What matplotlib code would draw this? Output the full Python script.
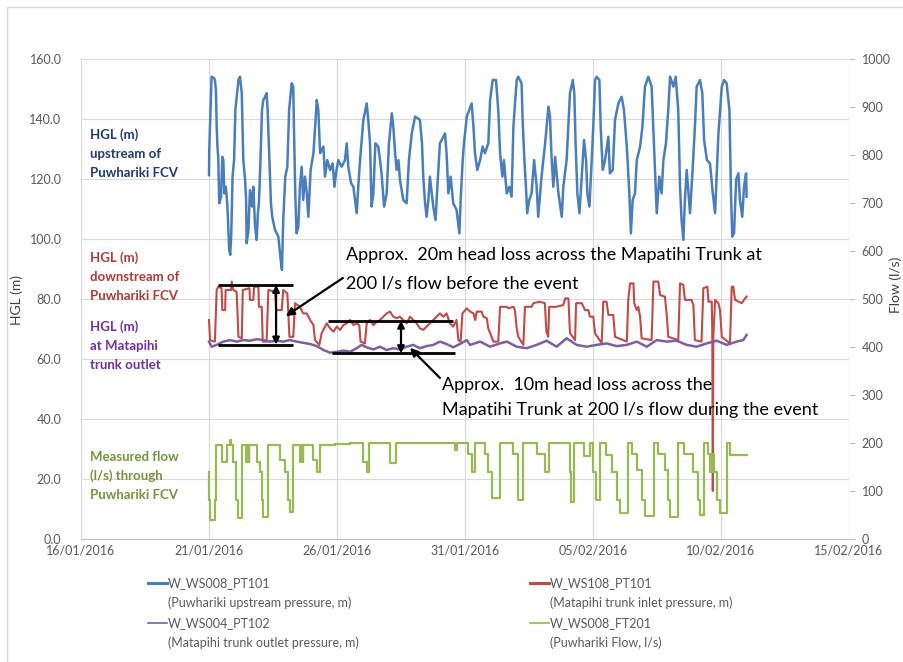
import numpy as np
import pandas as pd
import matplotlib
matplotlib.use("Agg")
import matplotlib.pyplot as plt
import matplotlib.dates as mdates
from matplotlib.lines import Line2D
from matplotlib.patches import Rectangle

# days after 21/01/2016 00:00

# W_WS008_PT101 - HGL upstream of Puwhariki FCV (m)
blue_days = [0.00, 0.01, 0.10, 0.20, 0.23, 0.27, 0.30, 0.33, 0.36, 0.40,
             0.47, 0.52, 0.56, 0.60, 0.66, 0.72, 0.79, 0.83, 0.87, 0.92,
             0.98, 1.03, 1.15, 1.21, 1.28, 1.34, 1.41, 1.45, 1.47, 1.54,
             1.60, 1.68, 1.73, 1.80, 1.86, 1.91, 1.95, 2.01, 2.07, 2.12,
             2.19, 2.25, 2.29, 2.36, 2.42, 2.47, 2.58, 2.71, 2.80, 2.85,
             2.90, 2.98, 3.06, 3.13, 3.23, 3.29, 3.33, 3.37, 3.42, 3.49,
             3.55, 3.62, 3.68, 3.75, 3.82, 3.88, 3.97, 4.08, 4.21, 4.27,
             4.34, 4.47, 4.53, 4.62, 4.73, 4.83, 4.90, 4.96, 5.05, 5.18,
             5.31, 5.38, 5.44, 5.55, 5.64, 5.77, 5.83, 5.90, 6.03, 6.16,
             6.22, 6.29, 6.35, 6.42, 6.50, 6.61, 6.68, 6.74, 6.84, 6.94,
             7.03, 7.14, 7.20, 7.27, 7.33, 7.40, 7.46, 7.59, 7.72, 7.81,
             7.92, 8.05, 8.24, 8.32, 8.37, 8.44, 8.50, 8.57, 8.63, 8.76,
             8.85, 8.92, 9.02, 9.22, 9.28, 9.35, 9.44, 9.54, 9.67, 9.78,
             9.83, 9.91, 9.96, 10.07, 10.26, 10.33, 10.39, 10.48, 10.59, 10.69,
             10.78, 10.91, 10.98, 11.08, 11.21, 11.30, 11.37, 11.46, 11.52, 11.63,
             11.73, 11.82, 11.89, 12.02, 12.08, 12.21, 12.25, 12.32, 12.38, 12.43,
             12.51, 12.60, 12.70, 12.80, 12.86, 12.99, 13.13, 13.26, 13.32, 13.38,
             13.45, 13.52, 13.65, 13.78, 13.84, 13.97, 14.10, 14.21, 14.27, 14.32,
             14.39, 14.47, 14.56, 14.65, 14.73, 14.78, 14.86, 14.95, 15.01, 15.08,
             15.14, 15.25, 15.30, 15.38, 15.47, 15.60, 15.66, 15.77, 15.86, 15.99,
             16.12, 16.21, 16.32, 16.42, 16.48, 16.55, 16.64, 16.71, 16.84, 16.93,
             17.03, 17.16, 17.29, 17.38, 17.49, 17.59, 17.68, 17.75, 17.85, 17.94,
             18.01, 18.14, 18.23, 18.33, 18.40, 18.46, 18.53, 18.59, 18.66, 18.79,
             18.89, 18.98, 19.05, 19.18, 19.27, 19.34, 19.45, 19.57, 19.68, 19.77,
             19.90, 20.03, 20.12, 20.22, 20.33, 20.39, 20.44, 20.51, 20.59, 20.68,
             20.74, 20.83, 20.90, 20.98, 21.00]
blue_vals = [121.3, 129.7, 154.1, 153.6, 153.0, 149.7, 137.4, 130.8, 127.4, 111.9,
             114.1, 127.4, 126.3, 115.2, 117.4, 110.8, 96.3, 94.7, 101.9, 120.8,
             126.3, 143.0, 153.0, 154.1, 148.6, 126.3, 119.7, 113.0, 98.6, 103.0,
             116.3, 110.8, 117.4, 104.1, 99.7, 108.6, 111.9, 126.3, 143.0, 146.3,
             147.4, 148.6, 143.0, 126.3, 111.9, 107.4, 103.0, 100.8, 93.0, 89.7,
             106.3, 120.8, 124.1, 143.0, 151.9, 150.8, 131.9, 115.2, 101.9, 104.1,
             117.4, 124.1, 113.0, 120.8, 115.2, 107.4, 123.0, 128.6, 146.3, 143.0,
             128.6, 130.8, 120.8, 126.3, 123.0, 125.2, 117.4, 121.9, 126.3, 124.1,
             126.3, 131.9, 124.1, 118.6, 117.4, 108.6, 117.4, 126.3, 139.7, 145.2,
             139.7, 131.9, 110.8, 115.2, 131.9, 130.8, 126.3, 121.9, 110.8, 115.2,
             131.9, 141.9, 137.4, 128.6, 123.0, 126.3, 119.7, 113.0, 111.9, 126.3,
             135.2, 140.8, 139.7, 131.9, 120.8, 111.9, 107.4, 113.0, 120.8, 110.8,
             106.3, 117.4, 131.9, 135.2, 128.6, 115.2, 120.8, 111.9, 109.7, 101.9,
             113.0, 126.3, 131.9, 140.8, 145.2, 137.4, 128.6, 123.0, 126.3, 130.8,
             128.6, 131.9, 146.3, 153.0, 153.0, 143.0, 128.6, 120.8, 126.3, 115.2,
             117.4, 114.1, 137.4, 153.0, 154.1, 151.9, 139.7, 126.3, 117.4, 108.6,
             113.0, 115.2, 126.3, 117.4, 107.4, 120.8, 131.9, 144.1, 140.8, 127.4,
             117.4, 127.4, 115.2, 107.4, 117.4, 126.3, 148.6, 153.0, 148.6, 131.9,
             115.2, 108.6, 120.8, 133.0, 126.3, 115.2, 110.8, 126.3, 137.4, 153.0,
             154.1, 153.0, 137.4, 123.0, 126.3, 134.1, 121.9, 123.0, 139.7, 145.2,
             147.4, 143.0, 130.8, 115.2, 101.9, 113.0, 115.2, 126.3, 130.8, 137.4,
             150.8, 154.1, 150.8, 131.9, 108.6, 120.8, 115.2, 126.3, 131.9, 143.0,
             154.1, 150.8, 154.1, 143.0, 117.4, 106.3, 99.7, 113.0, 123.0, 108.6,
             123.0, 137.4, 150.8, 153.0, 148.6, 133.0, 126.3, 125.2, 115.2, 108.6,
             135.2, 150.8, 153.0, 151.9, 143.0, 115.2, 100.8, 101.9, 119.7, 121.9,
             113.0, 107.4, 117.4, 121.9, 114.1]

# W_WS108_PT101 - Matapihi trunk inlet pressure (m)
red_days = [0.00, 0.04, 0.23, 0.30, 0.36, 0.49, 0.52, 0.63, 0.65, 0.86,
            0.89, 0.95, 1.08, 1.15, 1.28, 1.32, 1.58, 1.60, 1.73, 1.76,
            1.93, 1.95, 2.06, 2.10, 2.25, 2.32, 2.58, 2.62, 2.84, 2.90,
            3.06, 3.10, 3.14, 3.29, 3.36, 3.55, 3.68, 3.82, 3.95, 4.08,
            4.14, 4.31, 4.40, 4.60, 4.73, 4.86, 4.99, 5.12, 5.25, 5.38,
            5.51, 5.64, 5.77, 5.87, 5.92, 6.09, 6.16, 6.29, 6.42, 6.55,
            6.68, 6.81, 6.94, 7.07, 7.20, 7.33, 7.46, 7.59, 7.72, 7.85,
            7.98, 8.11, 8.24, 8.37, 8.50, 8.63, 8.76, 8.89, 9.02, 9.15,
            9.28, 9.41, 9.54, 9.67, 9.74, 9.83, 9.90, 10.07, 10.20, 10.33,
            10.40, 10.46, 10.65, 10.72, 10.85, 10.91, 11.04, 11.11, 11.30, 11.37,
            11.63, 11.69, 11.89, 11.95, 12.02, 12.08, 12.28, 12.34, 12.60, 12.67,
            12.92, 13.12, 13.18, 13.25, 13.29, 13.58, 13.84, 13.91, 14.04, 14.10,
            14.30, 14.34, 14.56, 14.69, 14.82, 14.88, 15.01, 15.08, 15.34, 15.40,
            15.53, 15.60, 15.79, 15.86, 16.32, 16.38, 16.45, 16.58, 16.61, 16.71,
            16.77, 16.84, 16.90, 17.29, 17.36, 17.55, 17.62, 17.81, 17.88, 17.94,
            18.33, 18.40, 18.53, 18.59, 18.85, 18.92, 18.98, 19.24, 19.31, 19.47,
            19.51, 19.64, 19.66, 19.68, 19.70, 19.77, 19.90, 19.96, 20.03, 20.35,
            20.42, 20.48, 20.55, 20.81, 20.94, 21.00]
red_vals = [73.0, 66.3, 65.8, 83.0, 84.1, 83.6, 76.3, 76.3, 83.0, 83.0,
            85.8, 83.0, 82.4, 67.4, 66.9, 83.0, 83.6, 79.7, 79.7, 84.1,
            84.1, 77.4, 77.4, 65.8, 65.8, 83.0, 82.4, 76.3, 76.3, 83.0,
            81.9, 75.2, 67.4, 67.4, 78.6, 77.4, 75.2, 75.2, 73.0, 71.3,
            66.3, 64.7, 68.6, 71.9, 70.2, 69.1, 70.8, 69.7, 71.3, 71.9,
            73.0, 71.3, 71.9, 71.3, 65.8, 65.2, 71.9, 73.0, 71.3, 72.4,
            73.0, 74.1, 75.2, 75.8, 74.1, 73.6, 74.1, 73.0, 71.9, 74.1,
            73.0, 71.9, 70.2, 69.7, 70.8, 71.9, 73.0, 74.1, 75.2, 74.1,
            75.2, 71.9, 70.8, 73.0, 66.3, 65.8, 75.2, 76.9, 75.8, 75.2,
            73.0, 75.8, 75.8, 74.1, 73.6, 70.2, 67.4, 65.8, 65.8, 77.4,
            77.4, 76.9, 77.4, 76.3, 70.2, 67.4, 64.7, 77.4, 77.4, 78.6,
            79.1, 78.6, 69.1, 67.4, 77.4, 77.4, 78.0, 80.2, 80.2, 68.6,
            66.3, 78.6, 78.6, 76.3, 76.3, 74.1, 74.1, 68.6, 65.2, 79.1,
            79.1, 74.7, 74.7, 67.4, 65.8, 80.2, 85.2, 85.2, 78.6, 76.3,
            77.4, 74.1, 66.9, 66.3, 85.8, 85.8, 81.3, 80.8, 74.7, 67.4,
            66.3, 85.2, 84.7, 79.7, 79.7, 78.0, 66.3, 65.8, 83.6, 84.1,
            79.1, 79.1, 67.4, 16.0, 67.4, 79.7, 78.6, 76.3, 67.4, 65.2,
            84.1, 84.1, 79.7, 78.6, 80.2, 80.8]

# W_WS004_PT102 - Matapihi trunk outlet pressure (m)
purple_days = [0.00, 0.10, 0.30, 0.56, 0.82, 1.08, 1.34, 1.60, 1.86, 2.12,
               2.38, 2.64, 2.90, 3.16, 3.42, 3.68, 3.95, 4.21, 4.47, 4.73,
               4.99, 5.25, 5.51, 5.77, 5.96, 6.16, 6.42, 6.68, 6.94, 7.20,
               7.46, 7.72, 7.98, 8.24, 8.50, 8.76, 9.02, 9.28, 9.54, 9.80,
               10.07, 10.20, 10.59, 10.98, 11.37, 11.63, 12.02, 12.41, 12.80, 13.19,
               13.58, 13.97, 14.36, 14.75, 15.14, 15.53, 15.92, 16.32, 16.71, 17.10,
               17.49, 17.88, 18.27, 18.66, 19.05, 19.44, 19.83, 20.22, 20.61, 20.87,
               21.00]
purple_vals = [65.8, 64.1, 64.7, 65.8, 66.3, 65.8, 66.3, 66.1, 66.6, 66.3,
               65.8, 66.1, 65.8, 66.3, 65.8, 65.4, 65.0, 64.3, 63.0, 62.1,
               62.4, 62.8, 62.4, 63.6, 64.7, 63.9, 63.2, 64.1, 63.0, 63.6,
               63.2, 64.1, 64.7, 63.6, 64.3, 64.7, 65.8, 65.0, 63.9, 65.0,
               66.3, 64.7, 65.8, 64.1, 65.2, 65.8, 64.1, 63.6, 64.7, 66.1,
               64.1, 66.9, 64.7, 64.1, 64.7, 65.2, 64.3, 64.7, 65.8, 64.1,
               66.3, 65.8, 66.1, 64.7, 64.1, 65.2, 66.1, 64.7, 65.8, 66.3,
               68.0]

# W_WS008_FT201 - Puwhariki flow (l/s), value holds until the next time
green_days = [0.00, 0.01, 0.05, 0.25, 0.29, 0.49, 0.69, 0.83, 0.87, 0.95,
              1.05, 1.13, 1.28, 1.45, 1.47, 1.50, 1.52, 1.55, 1.57, 1.86,
              1.99, 2.06, 2.12, 2.32, 2.77, 2.97, 3.10, 3.16, 3.27, 3.55,
              3.58, 3.61, 3.64, 3.66, 3.68, 4.08, 4.21, 4.34, 4.92, 5.51,
              6.03, 6.16, 6.25, 7.07, 7.29, 8.37, 9.61, 9.67, 10.13, 10.26,
              10.39, 10.78, 10.91, 11.04, 11.37, 11.89, 12.08, 12.28, 12.80, 13.12,
              13.29, 14.10, 14.14, 14.27, 14.65, 14.88, 14.99, 15.12, 15.27, 15.51,
              15.73, 15.95, 16.05, 16.38, 16.54, 16.71, 16.90, 17.03, 17.38, 17.55,
              17.81, 17.94, 18.01, 18.33, 18.55, 18.92, 19.11, 19.18, 19.34, 19.51,
              19.58, 19.62, 19.66, 19.70, 19.74, 19.83, 19.96, 20.22, 20.35, 21.00]
green_vals = [140, 81, 40, 81, 196, 161, 196, 206, 196, 161,
              81, 43, 196, 161, 196, 161, 196, 161, 196, 161,
              140, 81, 46, 196, 164, 140, 81, 57, 196, 161,
              196, 161, 196, 161, 196, 164, 140, 196, 198, 201,
              161, 140, 201, 158, 201, 200, 185, 201, 178, 140,
              199, 178, 140, 85, 200, 178, 81, 201, 178, 140,
              201, 140, 78, 201, 173, 201, 140, 81, 201, 175,
              140, 81, 54, 201, 178, 144, 81, 47, 201, 178,
              144, 81, 46, 201, 178, 140, 81, 50, 201, 178,
              140, 178, 140, 178, 140, 81, 54, 201, 175, 175]

series_names = ["W_WS008_PT101", "W_WS108_PT101", "W_WS004_PT102", "W_WS008_FT201"]
series_desc = ["(Puwhariki upstream pressure, m)", "(Matapihi trunk inlet pressure, m)",
               "(Matapihi trunk outlet pressure, m)", "(Puwhariki Flow, l/s)"]
colors = ["#4A7EBB", "#BE4B48", "#7D5FA0", "#98B954"]

start = pd.Timestamp("2016-01-21")


def tdays(d):
    return start + pd.to_timedelta(np.asarray(d, dtype=float), unit="D")


def dnum(d):
    return mdates.date2num(start + pd.Timedelta(days=d))


plt.rcParams["font.family"] = ["Lato", "DejaVu Sans"]

W, H = 904, 662
fig = plt.figure(figsize=(W / 100, H / 100), dpi=100)
ax = fig.add_axes([81 / W, 1 - 539 / H, 768 / W, 480 / H])
ax2 = ax.twinx()

ax.plot(tdays(blue_days), blue_vals, color=colors[0], lw=1.8)
ax.plot(tdays(red_days), red_vals, color=colors[1], lw=1.5)
ax.plot(tdays(purple_days), purple_vals, color=colors[2], lw=1.8)
ax2.plot(tdays(green_days), green_vals, color=colors[3], lw=1.6, drawstyle="steps-post")

# axes
xt = pd.date_range("2016-01-16", "2016-02-15", freq="5D")
ax.set_xlim(xt[0], xt[-1])
ax.set_xticks(xt)
ax.xaxis.set_major_formatter(mdates.DateFormatter("%d/%m/%Y"))
ax.set_ylim(0, 160)
ax.set_yticks(np.arange(0, 161, 20))
ax.yaxis.set_major_formatter(matplotlib.ticker.FormatStrFormatter("%.1f"))
ax2.set_ylim(0, 1000)
ax2.set_yticks(np.arange(0, 1001, 100))

ax.grid(True, color="#D9D9D9", lw=0.8)
ax.set_axisbelow(True)
for s in ["top", "left", "right"]:
    ax.spines[s].set_visible(False)
ax.spines["bottom"].set_color("#BFBFBF")
for s in ax2.spines.values():
    s.set_visible(False)
ax.tick_params(axis="x", length=0, labelsize=9, labelcolor="#595959", pad=4)
ax.tick_params(axis="y", length=0, labelsize=9, labelcolor="#595959", pad=14)
ax2.tick_params(axis="y", length=4, color="#BFBFBF", labelsize=9, labelcolor="#595959", pad=5)

fig.text(17 / W, 1 - 300 / H, "HGL (m)", rotation=90, ha="center", va="center",
         fontsize=10, color="#404040")
fig.text(902 / W, 1 - 285 / H, "Flow (l/s)", rotation=90, ha="right", va="center",
         fontsize=10, color="#404040")

# series labels inside the plot
side_labels = [
    (["HGL (m)", "upstream of", "Puwhariki FCV"], 135, "#1F3B6E"),
    (["HGL (m)", "downstream of", "Puwhariki FCV"], 258, "#B03A36"),
    (["HGL (m)", "at Matapihi", "trunk outlet"], 327, "#7030A0"),
    (["Measured flow", "(l/s) through", "Puwhariki FCV"], 457, "#76923C"),
]
for lines, y0, c in side_labels:
    for i, t in enumerate(lines):
        fig.text(90 / W, 1 - (y0 + 19 * i) / H, t, ha="left", va="center",
                 fontsize=9.5, fontweight="bold", color=c)

# head loss annotations
bar = dict(color="black", lw=2, solid_capstyle="butt")
ax.plot([dnum(0.35), dnum(3.28)], [84.7, 84.7], **bar)
ax.plot([dnum(0.35), dnum(3.28)], [64.8, 64.8], **bar)
ax.plot([dnum(4.65), dnum(9.53)], [72.8, 72.8], **bar)
ax.plot([dnum(4.80), dnum(9.61)], [61.9, 61.9], **bar)
dbl = dict(arrowstyle="<|-|>", color="black", lw=1.6, mutation_scale=10, shrinkA=0, shrinkB=0)
ax.annotate("", xy=(dnum(2.62), 84.7), xytext=(dnum(2.62), 64.8), arrowprops=dbl)
ax.annotate("", xy=(dnum(7.50), 72.8), xytext=(dnum(7.50), 61.9), arrowprops=dbl)
one = dict(arrowstyle="-|>", color="black", lw=1.6, mutation_scale=12, shrinkA=0, shrinkB=0)
ax.annotate("", xy=(dnum(3.0), 74.3), xytext=(dnum(5.23), 87.0), arrowprops=one)
ax.annotate("", xy=(dnum(7.85), 63.7), xytext=(dnum(9.02), 53.7), arrowprops=one)

ax.text(dnum(5.35), 94.7, "Approx.  20m head loss across the Mapatihi Trunk at",
        fontsize=13, ha="left", va="center", color="black")
ax.text(dnum(5.35), 85.3, "200 l/s flow before the event",
        fontsize=13, ha="left", va="center", color="black")
ax.text(dnum(9.10), 51.3, "Approx.  10m head loss across the",
        fontsize=13, ha="left", va="center", color="black")
ax.text(dnum(9.10), 43.0, "Mapatihi Trunk at 200 l/s flow during the event",
        fontsize=13, ha="left", va="center", color="black")

# legend, two columns
leg_pos = [(148, 583), (530, 583), (148, 623), (530, 623)]
for (lx, ly), name, desc, c in zip(leg_pos, series_names, series_desc, colors):
    lw = 2.2 if c in (colors[0], colors[1]) else 1.2
    fig.add_artist(Line2D([lx / W, (lx + 19) / W], [1 - ly / H, 1 - ly / H],
                          color=c, lw=lw, transform=fig.transFigure))
    fig.text((lx + 20) / W, 1 - ly / H, name, ha="left", va="center",
             fontsize=9, color="#595959")
    fig.text((lx + 20) / W, 1 - (ly + 20) / H, desc, ha="left", va="center",
             fontsize=9, color="#595959")

fig.add_artist(Rectangle((7 / W, -0.05), 1.2, 1 - 7 / H + 0.05, transform=fig.transFigure,
                         fill=False, ec="#D9D9D9", lw=1))

fig.savefig("out.png", dpi=100)
